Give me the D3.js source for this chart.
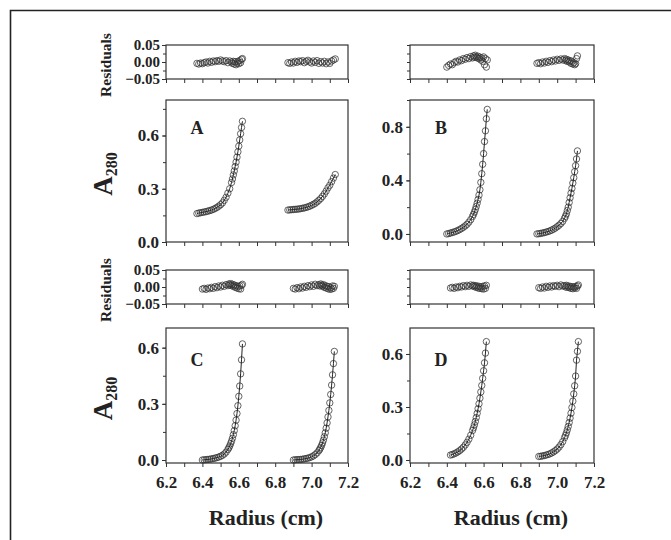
<!DOCTYPE html>
<html>
<head>
<meta charset="utf-8">
<title>Sedimentation equilibrium</title>
<style>
  body { margin: 0; background: #fff; }
  text { font-family: "Liberation Serif", "Times New Roman", serif; font-weight: bold; fill: #222; }
  .frame { fill: none; stroke: #333; stroke-width: 1.2; }
  .pt { fill: none; stroke: #333; stroke-width: 0.75; }
  .fit { fill: none; stroke: #222; stroke-width: 1; }
  .axis path { display: none; }
  .axis line { stroke: #333; stroke-width: 1; }
</style>
</head>
<body>
<div id="chart"></div>
<script src="https://cdn.jsdelivr.net/npm/d3@7"></script>
<script>
// radius (cm) for each cell, absorbance and fit residuals per panel
var radA1 = [6.37,6.38,6.39,6.40,6.41,6.42,6.43,6.44,6.45,6.46,6.47,6.48,6.49,6.50,6.51,6.52,6.53,6.54,6.55,6.56,6.565,6.57,6.575,6.58,6.585,6.59,6.595,6.60,6.605,6.61,6.615,6.62];
var absA1 = [0.160,0.163,0.165,0.167,0.169,0.171,0.174,0.177,0.180,0.184,0.189,0.195,0.202,0.210,0.220,0.235,0.252,0.275,0.300,0.335,0.355,0.378,0.400,0.425,0.450,0.478,0.508,0.540,0.575,0.610,0.645,0.680];
var resA1 = [-0.004,-0.006,-0.003,-0.005,-0.002,0.000,-0.003,0.002,-0.001,0.003,0.001,0.004,0.002,0.006,0.003,0.001,0.004,-0.002,0.003,0.000,-0.004,0.002,-0.006,0.001,-0.008,-0.003,0.002,-0.005,0.004,-0.002,0.008,0.010];
var radA2 = [6.87,6.88,6.89,6.90,6.91,6.92,6.93,6.94,6.95,6.96,6.97,6.98,6.99,7.00,7.01,7.02,7.03,7.04,7.05,7.06,7.07,7.08,7.09,7.10,7.11,7.12,7.13];
var absA2 = [0.180,0.181,0.182,0.183,0.184,0.185,0.186,0.188,0.190,0.192,0.195,0.198,0.202,0.207,0.212,0.218,0.226,0.235,0.245,0.257,0.271,0.287,0.305,0.320,0.340,0.360,0.380];
var resA2 = [-0.002,-0.004,0.000,-0.003,0.002,-0.001,0.003,0.001,0.004,-0.002,0.002,0.005,0.000,-0.003,0.003,-0.001,0.004,-0.004,0.001,-0.003,0.002,-0.005,0.000,-0.004,0.003,0.006,0.009];

var radB1 = [6.40,6.41,6.42,6.43,6.44,6.45,6.46,6.47,6.48,6.49,6.50,6.51,6.52,6.53,6.54,6.545,6.55,6.555,6.56,6.565,6.57,6.575,6.58,6.585,6.59,6.595,6.60,6.605,6.61,6.615,6.62];
var absB1 = [0.000,0.003,0.007,0.011,0.015,0.020,0.026,0.033,0.041,0.050,0.060,0.072,0.088,0.107,0.131,0.146,0.163,0.183,0.205,0.230,0.258,0.290,0.330,0.385,0.450,0.520,0.600,0.690,0.770,0.860,0.930];
var resB1 = [-0.015,-0.010,-0.006,-0.008,-0.002,0.002,0.000,0.006,0.004,0.010,0.008,0.013,0.010,0.016,0.012,0.018,0.014,0.020,0.015,0.012,0.017,0.010,0.014,0.006,0.012,0.002,0.015,-0.008,0.010,-0.015,0.006];
var radB2 = [6.89,6.90,6.91,6.92,6.93,6.94,6.95,6.96,6.97,6.98,6.99,7.00,7.01,7.02,7.03,7.04,7.045,7.05,7.055,7.06,7.065,7.07,7.075,7.08,7.085,7.09,7.095,7.10,7.105,7.11];
var absB2 = [0.000,0.002,0.004,0.007,0.010,0.014,0.018,0.023,0.029,0.036,0.044,0.054,0.065,0.078,0.094,0.117,0.132,0.150,0.175,0.200,0.235,0.270,0.305,0.340,0.380,0.420,0.465,0.510,0.560,0.620];
var resB2 = [-0.004,-0.002,-0.005,0.000,-0.003,0.002,-0.001,0.004,0.001,0.006,0.003,0.008,0.005,0.009,0.006,0.010,0.004,0.008,0.002,0.006,0.000,0.004,-0.004,0.002,-0.006,-0.002,-0.008,-0.005,0.010,0.018];

var radC1 = [6.40,6.41,6.42,6.43,6.44,6.45,6.46,6.47,6.48,6.49,6.50,6.51,6.52,6.53,6.54,6.545,6.55,6.555,6.56,6.565,6.57,6.575,6.58,6.585,6.59,6.595,6.60,6.605,6.61,6.615,6.62];
var absC1 = [0.000,0.001,0.002,0.003,0.004,0.006,0.008,0.010,0.013,0.016,0.020,0.025,0.032,0.042,0.056,0.065,0.075,0.087,0.100,0.116,0.135,0.157,0.183,0.213,0.248,0.290,0.340,0.395,0.460,0.535,0.620];
var resC1 = [-0.006,-0.004,-0.007,-0.003,-0.005,-0.001,-0.004,0.001,-0.002,0.003,0.000,0.005,0.002,0.007,0.004,0.009,0.006,0.010,0.004,0.008,0.002,0.006,-0.001,0.004,-0.003,0.002,-0.005,0.003,-0.006,0.005,0.008];
var radC2 = [6.90,6.91,6.92,6.93,6.94,6.95,6.96,6.97,6.98,6.99,7.00,7.01,7.02,7.03,7.04,7.045,7.05,7.055,7.06,7.065,7.07,7.075,7.08,7.085,7.09,7.095,7.10,7.105,7.11,7.115,7.12,7.125];
var absC2 = [0.000,0.001,0.002,0.002,0.003,0.004,0.006,0.008,0.010,0.013,0.017,0.022,0.029,0.038,0.050,0.058,0.067,0.078,0.091,0.106,0.124,0.145,0.170,0.198,0.230,0.265,0.305,0.350,0.400,0.455,0.515,0.580];
var resC2 = [-0.004,-0.006,-0.002,-0.005,0.000,-0.003,0.002,-0.001,0.004,0.001,0.006,0.002,0.008,0.004,0.007,0.003,0.009,0.005,0.002,0.007,-0.001,0.004,-0.003,0.002,-0.005,0.001,-0.007,-0.002,-0.006,0.003,-0.004,0.002];

var radD1 = [6.42,6.43,6.44,6.45,6.46,6.47,6.48,6.49,6.50,6.51,6.52,6.53,6.54,6.545,6.55,6.555,6.56,6.565,6.57,6.575,6.58,6.585,6.59,6.595,6.60,6.605,6.61,6.615];
var absD1 = [0.028,0.031,0.035,0.040,0.046,0.053,0.062,0.072,0.085,0.100,0.118,0.140,0.167,0.182,0.199,0.218,0.240,0.264,0.290,0.318,0.350,0.385,0.422,0.462,0.505,0.550,0.605,0.670];
var resD1 = [-0.003,-0.001,-0.004,0.000,-0.002,0.002,0.000,0.004,0.001,0.005,0.002,0.006,0.003,0.005,0.001,0.004,-0.001,0.003,-0.003,0.002,-0.004,0.000,-0.005,0.002,-0.006,0.003,-0.004,0.005];
var radD2 = [6.90,6.91,6.92,6.93,6.94,6.95,6.96,6.97,6.98,6.99,7.00,7.01,7.02,7.03,7.04,7.045,7.05,7.055,7.06,7.065,7.07,7.075,7.08,7.085,7.09,7.095,7.10,7.105,7.11,7.115];
var absD2 = [0.020,0.021,0.023,0.025,0.028,0.031,0.035,0.040,0.046,0.053,0.062,0.073,0.087,0.104,0.126,0.139,0.154,0.171,0.190,0.212,0.237,0.265,0.297,0.333,0.374,0.420,0.475,0.565,0.615,0.670];
var resD2 = [-0.002,-0.004,0.000,-0.003,0.002,-0.001,0.003,0.000,0.004,0.002,0.005,0.001,0.006,0.003,0.004,0.000,0.005,-0.001,0.003,-0.002,0.002,-0.004,0.001,-0.005,0.000,-0.003,0.002,-0.004,0.003,0.006];

var panelLetters = ["A", "B", "C", "D"];
var radiusTicks = [6.2, 6.4, 6.6, 6.8, 7.0, 7.2];
var residTicks = [-0.05, 0.00, 0.05];
var absTicks = [[0, 0.3, 0.6], [0, 0.4, 0.8], [0, 0.3, 0.6], [0, 0.3, 0.6]];
var absDomains = [[0, 0.8], [-0.06, 1.0], [-0.016, 0.705], [-0.017, 0.747]];

var width = 671, height = 540;
var svg = d3.select('#chart').append('svg')
  .attr('width', width)
  .attr('height', height);

// outer border (only top and left sides are inside the picture)
svg.append('path')
  .attr('d', 'M10.5,540V10.5H671')
  .attr('fill', 'none')
  .attr('stroke', '#222')
  .attr('stroke-width', 1.6);

var cols = [[166, 348], [410, 594]];
var rows = [{res: [45, 79], main: [100, 242]}, {res: [270, 304], main: [328, 463]}];

var panels = [
  {segs: [[radA1, absA1, resA1], [radA2, absA2, resA2]]},
  {segs: [[radB1, absB1, resB1], [radB2, absB2, resB2]]},
  {segs: [[radC1, absC1, resC1], [radC2, absC2, resC2]]},
  {segs: [[radD1, absD1, resD1], [radD2, absD2, resD2]]}
];

var tickFont = '17px';
var residFont = '15px';

function drawBox(x0, x1, y0, y1) {
  svg.append('rect').attr('class', 'frame')
    .attr('x', x0).attr('y', y0).attr('width', x1 - x0).attr('height', y1 - y0);
}

function minorRange(a, b, step) {
  var out = [];
  for (var v = a; v <= b + 1e-9; v += step) out.push(+v.toFixed(4));
  return out;
}

panels.forEach(function(p, i) {
  var col = cols[i % 2], row = rows[Math.floor(i / 2)];
  var leftCol = (i % 2 === 0), bottomRow = (i >= 2);

  var x = d3.scaleLinear().domain([6.2, 7.2]).range(col);
  var yr = d3.scaleLinear().domain([-0.05, 0.05]).range([row.res[1], row.res[0]]);
  var ym = d3.scaleLinear().domain(absDomains[i]).range([row.main[1], row.main[0]]);

  // ---- residual panel
  drawBox(col[0], col[1], row.res[0], row.res[1]);
  svg.append('g').attr('class', 'axis')
    .attr('transform', `translate(0,${row.res[1]})`)
    .call(d3.axisBottom(x).tickValues(minorRange(6.2, 7.2, 0.1)).tickSize(4).tickFormat(''));
  svg.append('g').attr('class', 'axis')
    .attr('transform', `translate(${col[0]},0)`)
    .call(d3.axisLeft(yr).tickValues(minorRange(-0.05, 0.05, 0.025)).tickSize(3).tickFormat(''));
  if (leftCol) {
    svg.append('g').attr('class', 'axis')
      .attr('transform', `translate(${col[0]},0)`)
      .call(d3.axisLeft(yr).tickValues(residTicks).tickSize(4).tickPadding(2)
        .tickFormat(d3.format('.2f')))
      .selectAll('text').style('font-size', residFont).style('font-family', '"Liberation Serif", serif');
    svg.append('text')
      .attr('transform', `translate(${col[0] - 55},${(row.res[0] + row.res[1]) / 2 + 3}) rotate(-90)`)
      .attr('text-anchor', 'middle')
      .style('font-size', '15.5px')
      .text('Residuals');
  }

  // ---- main panel
  drawBox(col[0], col[1], row.main[0], row.main[1]);
  var xAxis = d3.axisBottom(x).tickValues(minorRange(6.2, 7.2, 0.1)).tickSize(4).tickPadding(9)
    .tickFormat(d => bottomRow && radiusTicks.some(t => Math.abs(t - d) < 1e-6) ? d3.format('.1f')(d) : '');
  svg.append('g').attr('class', 'axis')
    .attr('transform', `translate(0,${row.main[1]})`)
    .call(xAxis)
    .selectAll('text').style('font-size', tickFont).style('font-family', '"Liberation Serif", serif');

  var t = absTicks[i], step = (t[1] - t[0]) / 2;
  svg.append('g').attr('class', 'axis')
    .attr('transform', `translate(${col[0]},0)`)
    .call(d3.axisLeft(ym).tickValues(minorRange(0, absDomains[i][1], step)).tickSize(3).tickFormat(''));
  svg.append('g').attr('class', 'axis')
    .attr('transform', `translate(${col[0]},0)`)
    .call(d3.axisLeft(ym).tickValues(t).tickSize(4).tickPadding(3).tickFormat(d3.format('.1f')))
    .selectAll('text').style('font-size', tickFont).style('font-family', '"Liberation Serif", serif');

  if (leftCol) {
    var lab = svg.append('text')
      .attr('transform', `translate(${col[0] - 54},${(row.main[0] + row.main[1]) / 2 + 3}) rotate(-90)`)
      .attr('text-anchor', 'middle');
    lab.append('tspan').style('font-size', '27px').text('A');
    lab.append('tspan').style('font-size', '16px').attr('dy', 5).text('280');
  }
  if (bottomRow) {
    svg.append('text')
      .attr('x', (col[0] + col[1]) / 2 + 9)
      .attr('y', 525)
      .attr('text-anchor', 'middle')
      .style('font-size', '22px')
      .text('Radius (cm)');
  }

  svg.append('text')
    .attr('x', col[0] + 31).attr('y', row.main[0] + (bottomRow ? 38 : 34))
    .attr('text-anchor', 'middle')
    .style('font-size', '18px')
    .text(panelLetters[i]);

  // ---- data
  var line = d3.line().x(d => x(d[0])).y(d => ym(d[1]));
  p.segs.forEach(function(s) {
    var pts = s[0].map((r, k) => [r, s[1][k], s[2][k]]);
    svg.append('g').selectAll('circle').data(pts).enter().append('circle')
      .attr('class', 'pt').attr('r', 3.2)
      .attr('cx', d => x(d[0])).attr('cy', d => ym(d[1]));
    svg.append('path').attr('class', 'fit').attr('d', line(pts));
    svg.append('g').selectAll('circle').data(pts).enter().append('circle')
      .attr('class', 'pt').attr('r', 3.2)
      .attr('cx', d => x(d[0])).attr('cy', d => yr(d[2]));
  });
});
</script>
</body>
</html>
